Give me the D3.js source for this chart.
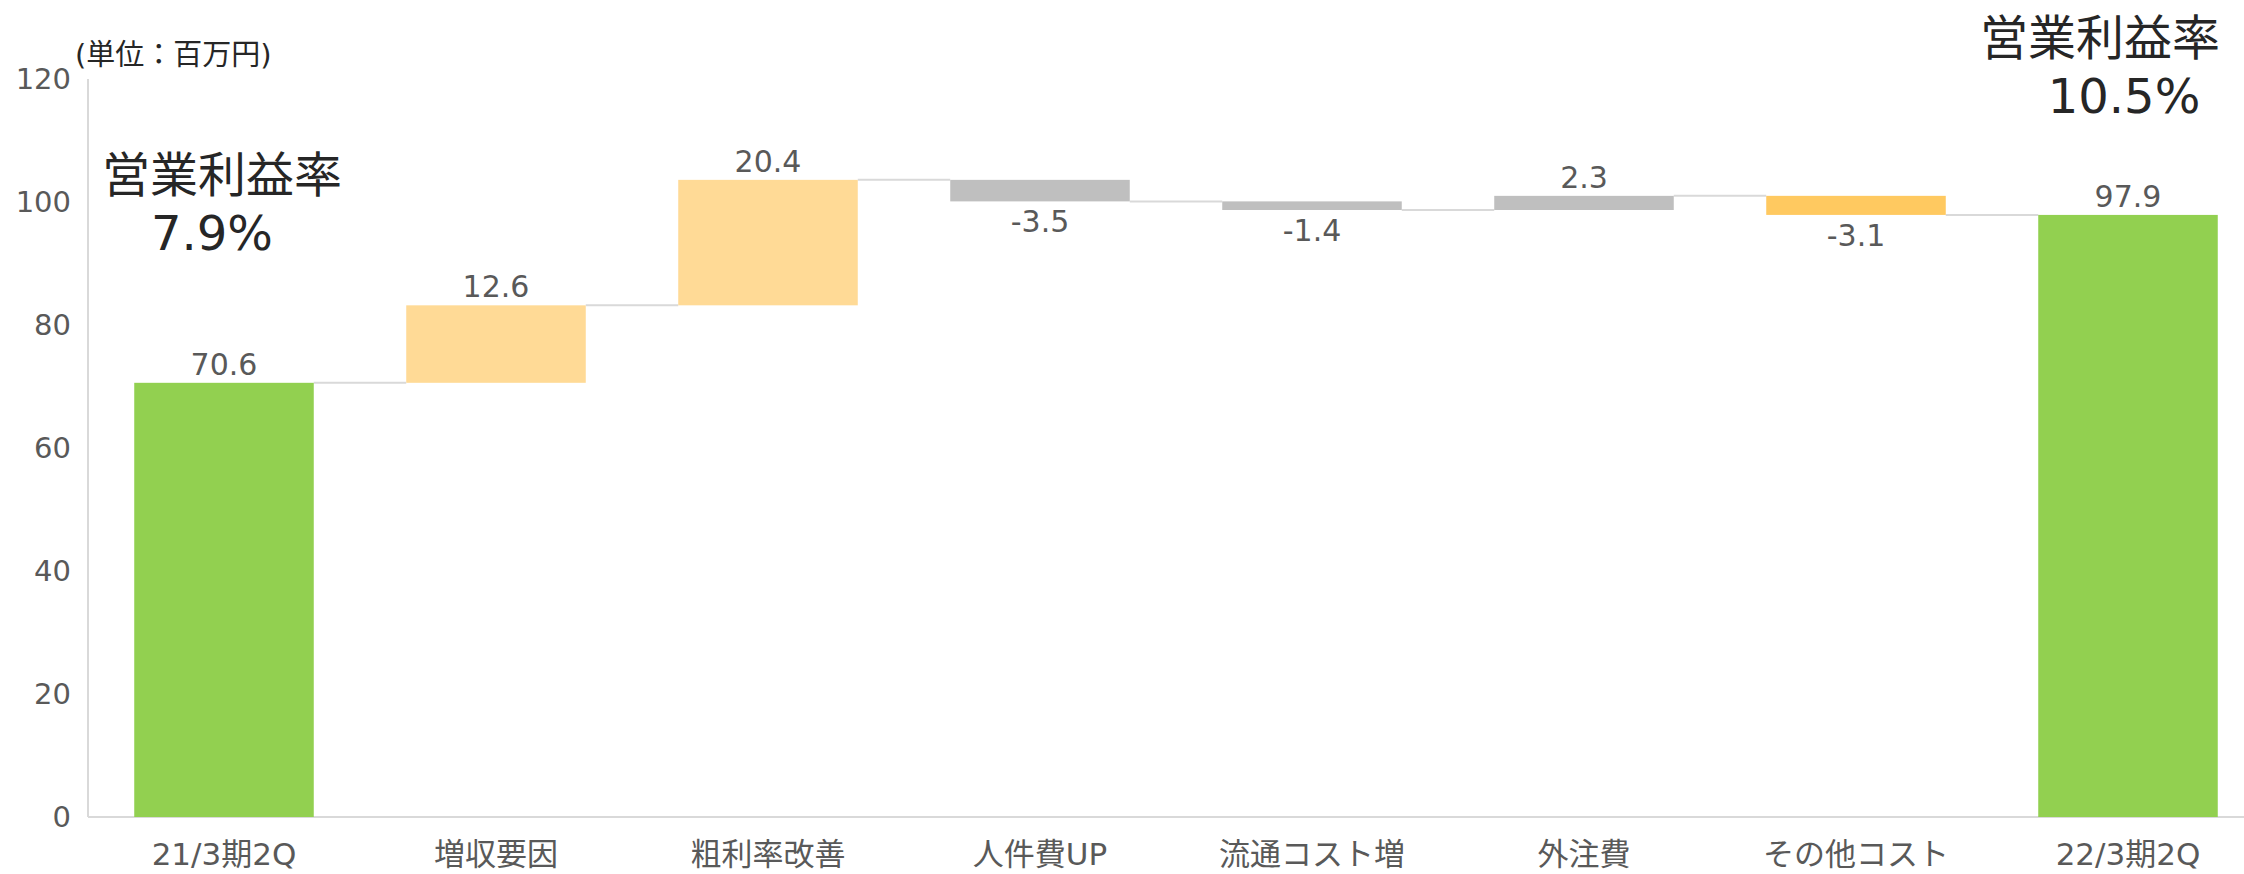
<!DOCTYPE html>
<html lang="ja">
<head>
    <meta charset="UTF-8">
    <title>営業利益 増減要因</title>
    <script src="https://cdn.jsdelivr.net/npm/d3@7/dist/d3.min.js"></script>
    <style>
        body { margin: 0; background: #fff; }
        svg text { font-family: "DejaVu Sans", "Noto Sans CJK JP", sans-serif; }
    </style>
</head>
<body>
<svg id="chart" width="2244" height="874"></svg>
<script>
    // data
    var categories = ["21/3期2Q", "増収要因", "粗利率改善", "人件費UP", "流通コスト増", "外注費", "その他コスト", "22/3期2Q"];
    var values = [70.6, 12.6, 20.4, -3.5, -1.4, 2.3, -3.1, 97.9];
    var kinds = ["total", "up", "up", "cost", "cost", "cost", "other", "total"];
    var yTicks = [0, 20, 40, 60, 80, 100, 120];
    var marginStart = "7.9%";
    var marginEnd = "10.5%";

    var colors = {total: "#92D050", up: "#FFDA96", cost: "#BFBFBF", other: "#FFC960"};

    var svg = d3.select("#chart");
    var W = 2244, H = 874;

    var x = d3.scaleBand().domain(categories).range([88, 2264]).paddingInner(0.34).paddingOuter(0.17);
    var y = d3.scaleLinear().domain([0, 120]).range([817, 79]);

    // build waterfall
    var running = 0;
    var bars = [];
    for (var i = 0; i < categories.length; i++) {
        var v = values[i];
        var b;
        if (kinds[i] == "total") {
            b = {lo: 0, hi: v, end: v};
            running = v;
        } else {
            var start = running;
            running = +(running + v).toFixed(1);
            b = {lo: Math.min(start, running), hi: Math.max(start, running), end: running};
        }
        b.cat = categories[i];
        b.v = v;
        b.kind = kinds[i];
        bars.push(b);
    }

    // axes lines
    svg.append("line")
        .attr("x1", 88).attr("x2", W)
        .attr("y1", y(0)).attr("y2", y(0))
        .attr("stroke", "#d9d9d9").attr("stroke-width", 2);
    svg.append("line")
        .attr("x1", 88).attr("x2", 88)
        .attr("y1", y(120)).attr("y2", y(0))
        .attr("stroke", "#d9d9d9").attr("stroke-width", 2);

    var yAxis = d3.axisLeft(y).tickValues(yTicks).tickSize(0).tickPadding(17);
    var gy = svg.append("g").attr("transform", "translate(88,0)").call(yAxis);
    gy.select(".domain").remove();
    gy.selectAll("text").attr("fill", "#595959").style("font-size", "29px");

    var xAxis = d3.axisBottom(x).tickSize(0).tickPadding(0);
    var gx = svg.append("g").attr("transform", "translate(0,854)").call(xAxis);
    gx.select(".domain").remove();
    gx.selectAll("text").attr("fill", "#595959").attr("dy", null)
        .attr("dominant-baseline", "central").style("font-size", "31px");

    // connectors
    for (var i = 0; i < bars.length - 1; i++) {
        svg.append("line")
            .attr("x1", x(bars[i].cat) + x.bandwidth())
            .attr("x2", x(bars[i + 1].cat))
            .attr("y1", y(bars[i].end)).attr("y2", y(bars[i].end))
            .attr("stroke", "#d9d9d9").attr("stroke-width", 2);
    }

    // bars
    svg.selectAll("rect.bar").data(bars).enter().append("rect")
        .attr("class", "bar")
        .attr("x", function (d) { return x(d.cat); })
        .attr("width", x.bandwidth())
        .attr("y", function (d) { return y(d.hi); })
        .attr("height", function (d) { return y(d.lo) - y(d.hi); })
        .attr("fill", function (d) { return colors[d.kind]; });

    // value labels
    svg.selectAll("text.val").data(bars).enter().append("text")
        .attr("class", "val")
        .attr("x", function (d) { return x(d.cat) + x.bandwidth() / 2; })
        .attr("y", function (d) { return d.v >= 0 ? y(d.hi) - 8 : y(d.lo) + 31; })
        .attr("text-anchor", "middle")
        .attr("fill", "#595959")
        .style("font-size", "30px")
        .text(function (d) { return d.v.toFixed(1); });

    // unit
    svg.append("text").attr("x", 75).attr("y", 55)
        .attr("dominant-baseline", "central")
        .attr("fill", "#262626").style("font-size", "29px")
        .text("(単位：百万円)");

    // operating margin notes
    svg.append("text").attr("x", 222).attr("y", 175).attr("text-anchor", "middle")
        .attr("dominant-baseline", "central").attr("fill", "#262626").style("font-size", "48px")
        .text("営業利益率");
    svg.append("text").attr("x", 212).attr("y", 233).attr("text-anchor", "middle")
        .attr("dominant-baseline", "central").attr("fill", "#262626").style("font-size", "48px")
        .text(marginStart);
    svg.append("text").attr("x", 2100).attr("y", 38).attr("text-anchor", "middle")
        .attr("dominant-baseline", "central").attr("fill", "#262626").style("font-size", "48px")
        .text("営業利益率");
    svg.append("text").attr("x", 2124).attr("y", 96).attr("text-anchor", "middle")
        .attr("dominant-baseline", "central").attr("fill", "#262626").style("font-size", "48px")
        .text(marginEnd);
</script>
</body>
</html>
